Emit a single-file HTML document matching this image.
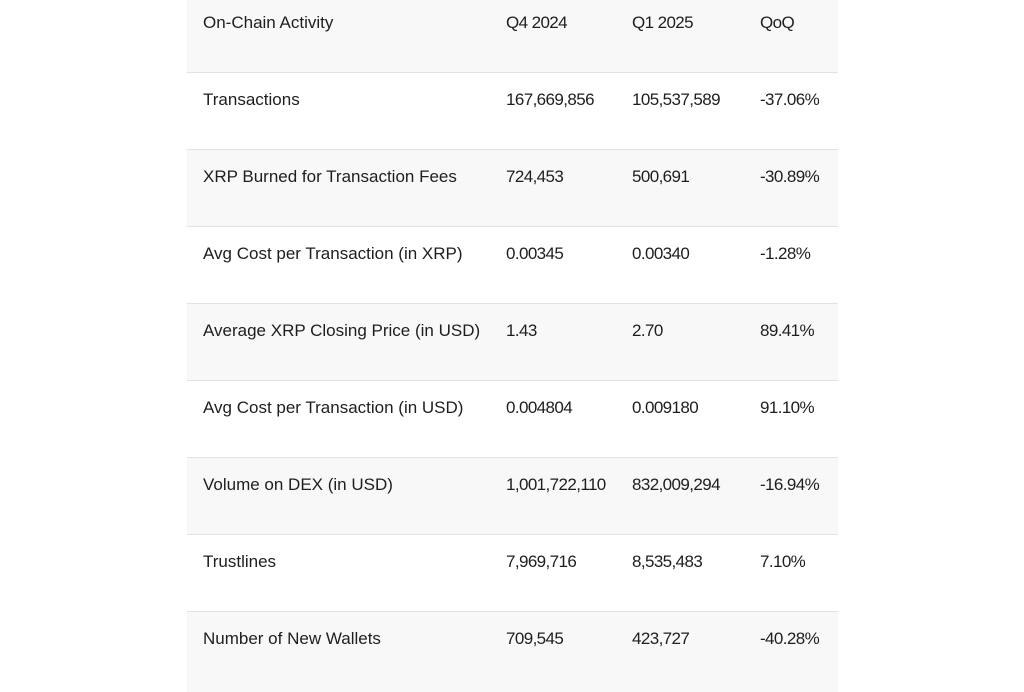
<!DOCTYPE html>
<html><head><meta charset="utf-8"><style>
body{margin:0;width:1024px;height:683px;background:#fff;overflow:hidden;font-family:"Liberation Sans",sans-serif;color:#1e1e1e;}
.t{position:absolute;left:187px;top:0;width:651px;}
.r{position:relative;height:76px;border-bottom:1px solid #e2e2e2;}
.g{background:#f8f8f8;}
.r span{position:absolute;top:18px;font-size:17px;line-height:17px;}
.a{left:16px}.b{left:319px}.c{left:445px}.d{left:573px}
.b,.c,.d{letter-spacing:-0.6px}
</style></head><body>
<div class="t">
<div class="r g" style="height:72px"><span class="a" style="top:14px">On-Chain Activity</span><span class="b" style="top:14px">Q4 2024</span><span class="c" style="top:14px">Q1 2025</span><span class="d" style="top:14px">QoQ</span></div>
<div class="r"><span class="a">Transactions</span><span class="b">167,669,856</span><span class="c">105,537,589</span><span class="d">-37.06%</span></div>
<div class="r g"><span class="a">XRP Burned for Transaction Fees</span><span class="b">724,453</span><span class="c">500,691</span><span class="d">-30.89%</span></div>
<div class="r"><span class="a">Avg Cost per Transaction (in XRP)</span><span class="b">0.00345</span><span class="c">0.00340</span><span class="d">-1.28%</span></div>
<div class="r g"><span class="a">Average XRP Closing Price (in USD)</span><span class="b">1.43</span><span class="c">2.70</span><span class="d">89.41%</span></div>
<div class="r"><span class="a">Avg Cost per Transaction (in USD)</span><span class="b">0.004804</span><span class="c">0.009180</span><span class="d">91.10%</span></div>
<div class="r g"><span class="a">Volume on DEX (in USD)</span><span class="b">1,001,722,110</span><span class="c">832,009,294</span><span class="d">-16.94%</span></div>
<div class="r"><span class="a">Trustlines</span><span class="b">7,969,716</span><span class="c">8,535,483</span><span class="d">7.10%</span></div>
<div class="r g" style="border:none;height:80px"><span class="a">Number of New Wallets</span><span class="b">709,545</span><span class="c">423,727</span><span class="d">-40.28%</span></div>
</div>
</body></html>
